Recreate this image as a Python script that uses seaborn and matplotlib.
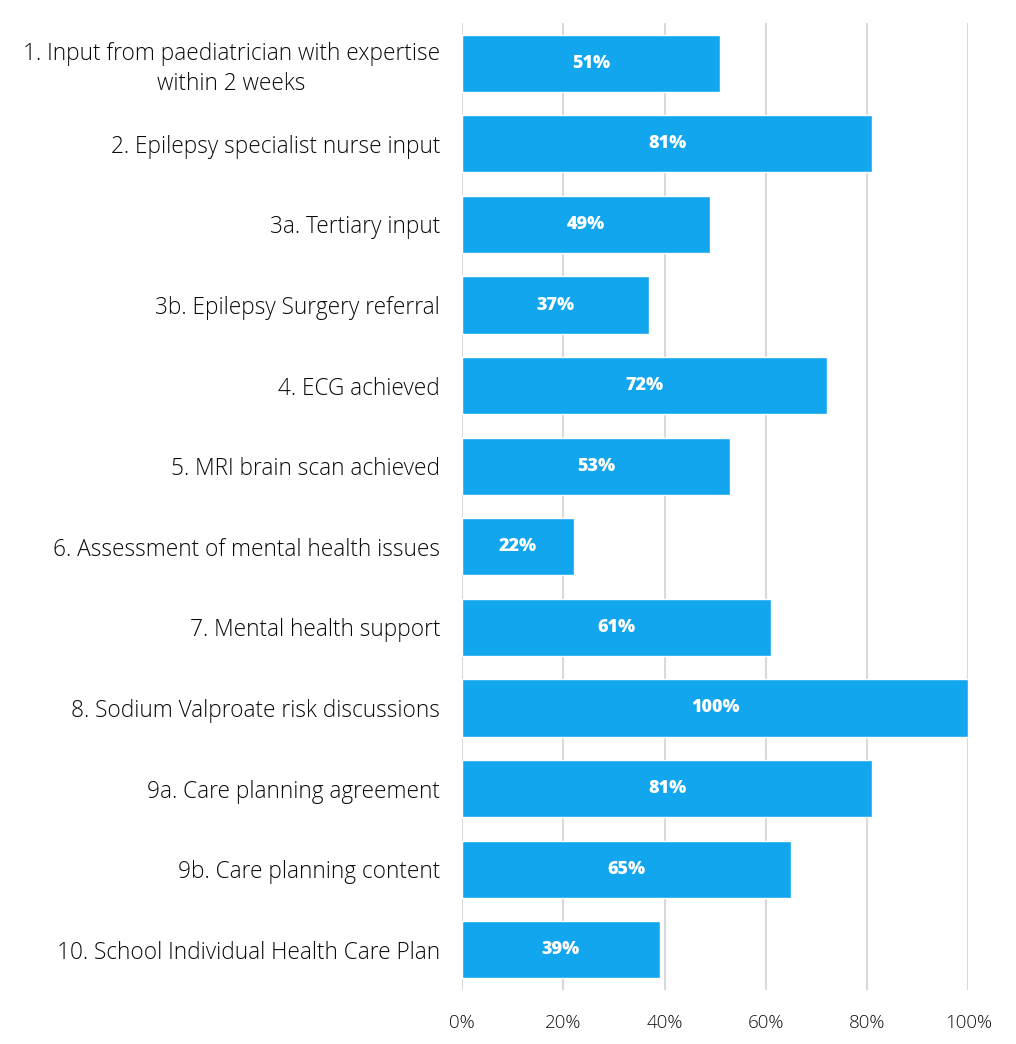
import matplotlib
matplotlib.use("Agg")
import matplotlib.pyplot as plt
import seaborn as sns
import pandas as pd
from matplotlib.ticker import FuncFormatter

categories = [
    "1. Input from paediatrician with expertise\nwithin 2 weeks",
    "2. Epilepsy specialist nurse input",
    "3a. Tertiary input",
    "3b. Epilepsy Surgery referral",
    "4. ECG achieved",
    "5. MRI brain scan achieved",
    "6. Assessment of mental health issues",
    "7. Mental health support",
    "8. Sodium Valproate risk discussions",
    "9a. Care planning agreement",
    "9b. Care planning content",
    "10. School Individual Health Care Plan",
]
values = [51, 81, 49, 37, 72, 53, 22, 61, 100, 81, 65, 39]
xticks = [0, 20, 40, 60, 80, 100]

sns.set_theme(style="white")
plt.rcParams['font.family'] = ['Open Sans', 'DejaVu Sans']

df = pd.DataFrame({"cat": categories, "val": values})

fig = plt.figure(figsize=(10.16, 10.44), dpi=100)
ax = fig.add_axes([0.455, 0.0517, 0.498, 0.9263])
sns.barplot(data=df, x="val", y="cat", color="#12A6EE", saturation=1, width=0.71, ax=ax, zorder=3)

ax.set_xlim(0, 100)
ax.set_xticks(xticks)
ax.xaxis.set_major_formatter(FuncFormatter(lambda v, p: f"{int(v)}%"))
ax.grid(axis="x", color="#D9D9D9", linewidth=1.5, zorder=0)
ax.set_axisbelow(True)
for s in ax.spines.values():
    s.set_visible(False)
ax.set_xlabel("")
ax.set_ylabel("")
ax.tick_params(axis="y", length=0, pad=16, labelsize=16.3, labelcolor="#0A0A0A")
ax.tick_params(axis="x", length=0, pad=17, labelsize=13.5, labelcolor="#111111")
for lbl in ax.get_yticklabels():
    lbl.set_horizontalalignment("right")
    lbl.set_multialignment("center")
    lbl.set_linespacing(1.3)
    lbl.set_fontweight("light")
for lbl in ax.get_xticklabels():
    lbl.set_fontweight("light")

for i, v in enumerate(values):
    ax.text(v / 2, i, f"{v}%", ha="center", va="center", color="white",
            fontsize=13, fontweight="heavy", zorder=5)

fig.savefig("out.png", dpi=100)
